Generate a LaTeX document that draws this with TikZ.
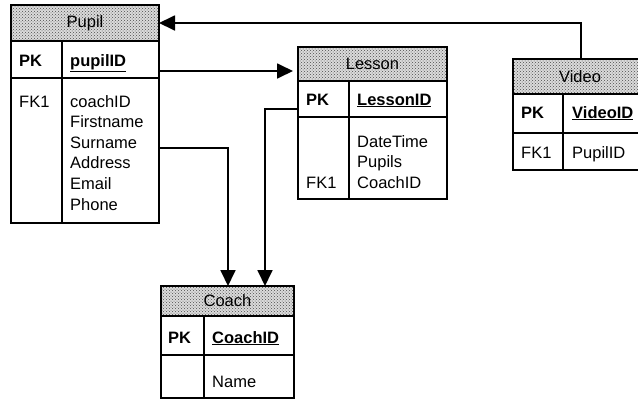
\documentclass[tikz,border=0pt]{standalone}
\usepackage{fontspec}
\setmainfont{Liberation Sans}
\usetikzlibrary{arrows.meta,patterns}
\begin{document}
\begin{tikzpicture}[x=1pt,y=-1pt,
  rule/.style={draw=black, line width=1.3pt},
  tablebox/.style={rule, anchor=north west, inner sep=0pt, outer sep=0pt},
  headbox/.style={tablebox, preaction={fill=black!14}, pattern=crosshatch dots,
    pattern color=black!70, font=\fontsize{16.5}{20}\selectfont, text=black},
  field/.style={anchor=base west, inner sep=0pt, font=\fontsize{16.5}{20}\selectfont},
  keyfield/.style={field, font=\fontsize{16.5}{20}\selectfont\bfseries},
  conn/.style={draw=black, line width=1.8pt, -{Triangle[length=16pt,width=15pt]}}
]
\useasboundingbox (0,0) rectangle (638,400);
\clip (0,0) rectangle (638,400);

% ---------- Pupil ----------
\node[headbox, minimum width=148pt, minimum height=36pt] (pupilhead) at (11,5) {};
\node[font=\fontsize{16.5}{20}\selectfont] (pupiltitle) at (pupilhead) {Pupil};
\node[tablebox, minimum width=148pt, minimum height=218pt] (pupil) at (11,5) {};
\draw[rule] (11,41) -- (159,41) (11,78) -- (159,78) (62,41) -- (62,223);
\node[keyfield] (pupilpk) at (19,66) {PK};
\node[keyfield] (pupilid) at (70,66) {\underline{pupilID}};
\node[field] (pupilfk) at (19,107) {FK1};
\node[field] (pupilcoach) at (70,107) {coachID};
\node[field] (pupilfirst) at (70,127.6) {Firstname};
\node[field] (pupilsur) at (70,148.2) {Surname};
\node[field] (pupiladdr) at (70,168.8) {Address};
\node[field] (pupilmail) at (70,189.4) {Email};
\node[field] (pupilphone) at (70,210) {Phone};

% ---------- Lesson ----------
\node[headbox, minimum width=149pt, minimum height=34pt] (lessonhead) at (298,47) {};
\node[font=\fontsize{16.5}{20}\selectfont] (lessontitle) at (lessonhead) {Lesson};
\node[tablebox, minimum width=149pt, minimum height=152pt] (lesson) at (298,47) {};
\draw[rule] (298,81) -- (447,81) (298,117) -- (447,117) (349,81) -- (349,199);
\node[keyfield] (lessonpk) at (306,105) {PK};
\node[keyfield] (lessonid) at (357,105) {\underline{LessonID}};
\node[field] (lessondate) at (357,147) {DateTime};
\node[field] (lessonpupils) at (357,167.6) {Pupils};
\node[field] (lessonfk) at (306,188.2) {FK1};
\node[field] (lessoncoach) at (357,188.2) {CoachID};

% ---------- Video ----------
\node[headbox, minimum width=134pt, minimum height=35pt] (videohead) at (513,59) {};
\node[font=\fontsize{16.5}{20}\selectfont] (videotitle) at (videohead) {Video};
\node[tablebox, minimum width=134pt, minimum height=111pt] (video) at (513,59) {};
\draw[rule] (513,94) -- (647,94) (513,133) -- (647,133) (563,94) -- (563,170);
\node[keyfield] (videopk) at (521,118) {PK};
\node[keyfield] (videoid) at (572,118) {\underline{VideoID}};
\node[field] (videofk) at (521,158) {FK1};
\node[field] (videopupil) at (572,158) {PupilID};

% ---------- Coach ----------
\node[headbox, minimum width=133pt, minimum height=30pt] (coachhead) at (161,286) {};
\node[font=\fontsize{16.5}{20}\selectfont] (coachtitle) at (coachhead) {Coach};
\node[tablebox, minimum width=133pt, minimum height=112pt] (coach) at (161,286) {};
\draw[rule] (161,316) -- (294,316) (161,355) -- (294,355) (204,316) -- (204,398);
\node[keyfield] (coachpk) at (168,343) {PK};
\node[keyfield] (coachid) at (212,343) {\underline{CoachID}};
\node[field] (coachname) at (212,387) {Name};

% ---------- Relationships ----------
\coordinate (videoout) at (581,59);
\coordinate (pupilout) at (159,71);
\coordinate (pupilout2) at (159,148);
\coordinate (lessonout) at (298,109);
\coordinate (coachin1) at (228,286);
\coordinate (coachin2) at (265,286);

\draw[conn] (videoout) |- (pupilhead.east);
\draw[conn] (pupilout) -- ([xshift=-5pt]lesson.west |- pupilout);
\draw[conn] (pupilout2) -| (coachin1);
\draw[conn] (lessonout) -| (coachin2);
\end{tikzpicture}
\end{document}
